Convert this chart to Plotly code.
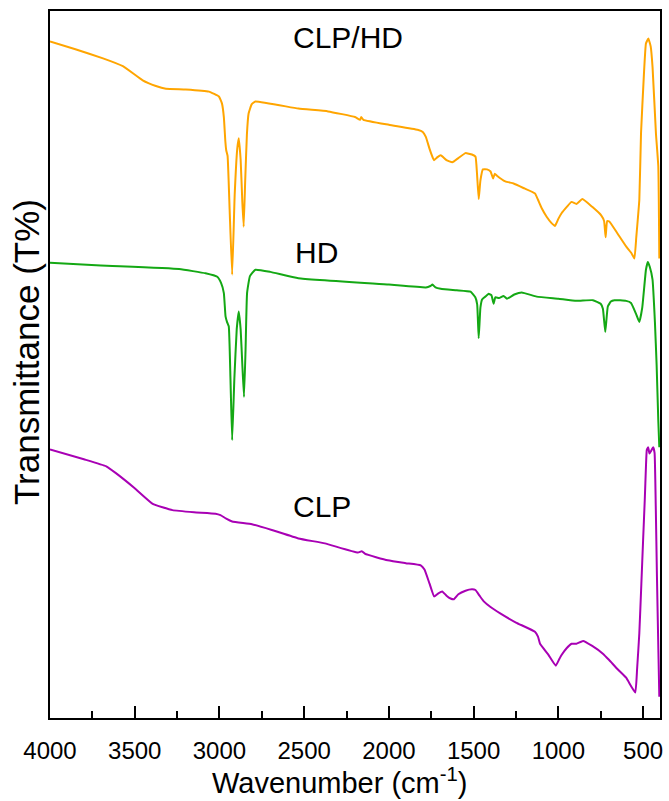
import plotly.graph_objects as go

# FTIR spectra: wavenumber (cm-1) and relative transmittance (arbitrary offset units)
clphd_wn = [4000, 3850, 3687, 3570, 3453, 3375, 3316, 3199, 3062, 3003, 2985, 2974, 2965,
            2960, 2952, 2940, 2925, 2910, 2895, 2886, 2875, 2865, 2857, 2848, 2838, 2828,
            2810, 2788, 2534, 2359, 2200, 2170, 2163, 2150, 2000, 1831, 1800, 1782, 1760,
            1740, 1733, 1715, 1694, 1660, 1626, 1590, 1548, 1510, 1489, 1480, 1470, 1460,
            1445, 1421, 1400, 1385, 1375, 1362, 1313, 1264, 1200, 1138, 1120, 1098, 1069,
            1040, 1020, 1000, 981, 950, 922, 893, 858, 800, 747, 730, 721, 712, 698, 650,
            600, 570, 551, 540, 522, 512, 495, 483, 469, 455, 444, 424, 410, 404]
clphd_t = [95.7, 94.6, 93.3, 92.2, 90.2, 89.4, 89.0, 88.9, 88.6, 87.9, 86.9, 85.0, 81.5,
           80.3, 79.5, 72.0, 62.7, 74.0, 80.5, 82.0, 79.0, 73.0, 69.5, 76.0, 82.5, 85.5,
           86.8, 87.2, 86.2, 85.8, 85.0, 84.6, 85.0, 84.6, 83.9, 83.2, 82.9, 82.2, 80.5,
           79.2, 78.9, 79.3, 79.6, 78.9, 78.6, 79.2, 79.9, 79.7, 79.4, 77.0, 73.4, 76.0,
           77.6, 77.6, 77.3, 76.3, 77.0, 76.7, 75.9, 75.6, 74.9, 74.2, 73.3, 72.1, 70.9,
           70.0, 69.6, 70.6, 71.4, 72.3, 73.0, 72.7, 73.4, 72.3, 71.1, 70.3, 68.0, 70.3, 70.2, 68.5,
           66.7, 65.8, 65.0, 68.0, 73.3, 82.7, 91.0, 95.4, 96.1, 95.0, 92.1, 82.7, 78.0, 65.0]

hd_wn = [4000, 3700, 3238, 3082, 3013, 2990, 2974, 2964, 2955, 2945, 2935, 2925, 2912,
         2898, 2886, 2875, 2865, 2855, 2846, 2837, 2820, 2788, 2700, 2534, 2000, 1782,
         1755, 1743, 1725, 1694, 1600, 1518, 1490, 1479, 1470, 1460, 1450, 1431, 1411,
         1395, 1382, 1372, 1350, 1323, 1303, 1260, 1216, 1128, 1000, 893, 796, 750, 737,
         723, 708, 690, 669, 600, 571, 542, 522, 505, 483, 472, 460, 444, 430, 420, 410, 404]
hd_t = [64.4, 64.0, 63.5, 62.9, 62.4, 61.5, 60.1, 56.8, 56.0, 55.4, 48.0, 39.3, 48.0,
        55.0, 57.5, 55.0, 50.0, 45.4, 52.0, 60.1, 62.5, 63.4, 63.1, 62.2, 61.3, 60.9,
        61.1, 61.3, 60.9, 60.7, 60.5, 60.3, 59.5, 58.5, 53.7, 58.0, 59.2, 59.6, 60.0,
        59.8, 58.6, 59.5, 59.4, 59.7, 59.3, 59.9, 60.2, 59.6, 59.3, 59.0, 59.1, 58.6, 57.9,
        54.6, 58.2, 58.9, 59.1, 59.0, 58.7, 57.2, 56.0, 58.0, 63.4, 64.5, 63.8, 62.0, 56.0, 50.0, 42.0, 38.3]

clp_wn = [4000, 3800, 3668, 3609, 3500, 3394, 3277, 3150, 3023, 2994, 2960, 2925, 2808,
          2691, 2534, 2378, 2183, 2160, 2140, 2007, 1900, 1812, 1790, 1760, 1733, 1710,
          1685, 1660, 1636, 1616, 1590, 1548, 1510, 1489, 1465, 1440, 1400, 1343, 1250,
          1138, 1120, 1108, 1060, 1015, 995, 981, 950, 922, 893, 854, 800, 737, 700, 650,
          600, 546, 535, 522, 510, 500, 490, 483, 478, 470, 462, 452, 440, 432, 425, 418, 410, 404]
clp_t = [38.0, 36.6, 35.6, 34.6, 32.5, 30.3, 29.4, 29.1, 28.9, 28.7, 28.2, 27.8, 27.4,
         26.6, 25.4, 24.7, 23.4, 23.6, 23.2, 22.3, 21.9, 21.6, 21.0, 19.0, 17.2, 17.6,
         17.9, 17.3, 16.9, 16.8, 17.5, 18.0, 18.2, 18.1, 17.3, 16.5, 15.7, 14.8, 13.5,
         12.2, 11.5, 10.5, 9.0, 7.4, 8.3, 8.9, 9.9, 10.5, 10.5, 10.9, 10.2, 9.1, 8.2, 6.9,
         5.7, 3.6, 7.0, 12.0, 19.0, 25.0, 30.8, 35.5, 37.9, 38.3, 37.4, 37.8, 38.3, 37.5, 30.0, 20.0, 10.0, 3.0]

series = [
    ("CLP/HD", clphd_wn, clphd_t, "#FFA500"),
    ("HD", hd_wn, hd_t, "#14A814"),
    ("CLP", clp_wn, clp_t, "#A800B4"),
]

# label anchors (wavenumber, transmittance)
label_text = ["CLP/HD", "HD", "CLP"]
label_wn = [2241, 2429, 2397]
label_t = [96.3, 65.9, 29.9]

font_family = "Arial, Liberation Sans"

fig = go.Figure()
for name, wn, t, color in series:
    fig.add_trace(go.Scatter(x=wn, y=t, mode="lines", name=name,
                             line=dict(color=color, width=2, shape="spline", smoothing=0.35)))

for txt, xw, yt in zip(label_text, label_wn, label_t):
    fig.add_annotation(x=xw, y=yt, text=txt, showarrow=False,
                       xanchor="center", yanchor="middle",
                       font=dict(family=font_family, size=30, color="black"))

# axis titles
fig.add_annotation(xref="paper", yref="paper", x=0.4747, y=0, yshift=-63,
                   xanchor="center", yanchor="middle", showarrow=False,
                   text="Wavenumber (cm<sup>-1</sup>)",
                   font=dict(family=font_family, size=29, color="black"))
fig.add_annotation(xref="paper", yref="paper", x=0, xshift=-23, y=0.5177,
                   xanchor="center", yanchor="middle", showarrow=False, textangle=-90,
                   text="Transmittance (T%)",
                   font=dict(family=font_family, size=35, color="black"))

fig.update_layout(
    width=669, height=801,
    margin=dict(l=50, r=6, t=11, b=83),
    paper_bgcolor="white", plot_bgcolor="white",
    showlegend=False,
    font=dict(family=font_family, color="black"),
)
fig.update_xaxes(
    range=[4000, 400],
    tickmode="linear", tick0=500, dtick=500,
    ticks="inside", ticklen=12, tickwidth=2, tickcolor="black",
    minor=dict(tick0=250, dtick=250, ticks="inside", ticklen=7, tickwidth=2, tickcolor="black"),
    showline=True, linewidth=2, linecolor="black", mirror=True,
    showgrid=False, zeroline=False,
    tickfont=dict(size=24, family=font_family, color="black"),
    ticklabelstandoff=10,
)
fig.update_yaxes(
    range=[0, 100],
    showticklabels=False, ticks="",
    showline=True, linewidth=2, linecolor="black", mirror=True,
    showgrid=False, zeroline=False,
)

fig.write_html("out.html")
